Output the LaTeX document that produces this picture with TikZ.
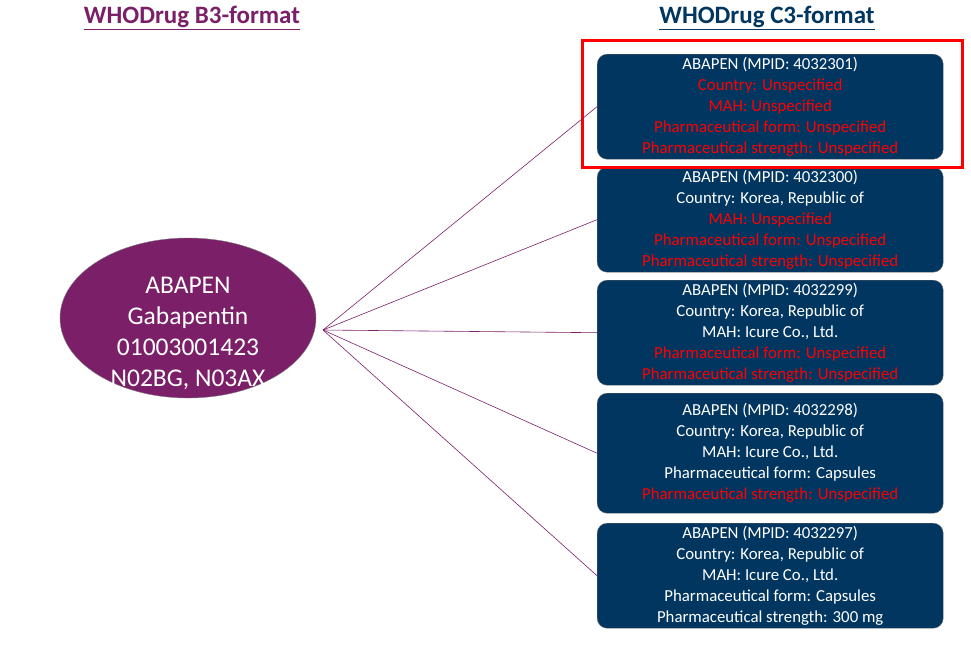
\documentclass[tikz,border=0pt]{standalone}
\usepackage{fontspec}
\setmainfont{Carlito}
\usetikzlibrary{shapes.geometric}
\definecolor{boxblue}{HTML}{003660}
\definecolor{purp}{HTML}{7A1F68}
\definecolor{redt}{HTML}{FF0000}
\begin{document}
\begin{tikzpicture}[x=1pt,y=-1pt,
  box/.style={draw=black!60,fill=boxblue,rounded corners=10pt,minimum width=346pt,minimum height=105pt,text=white,align=center,font=\fontsize{16.8}{21}\selectfont,anchor=north west,inner sep=0pt},
  conn/.style={draw=purp,line width=0.6pt},
  title/.style={font=\fontsize{25}{28}\selectfont\bfseries}]
\useasboundingbox (0,0) rectangle (971,646);
\node[title,text=purp] (t1) at (192,18) {\underline{WHODrug B3-format}};
\node[title,text=boxblue] (t2) at (767,18) {\underline{WHODrug C3-format}};
\node[ellipse,fill=purp,draw=black!50,minimum width=256pt,minimum height=160pt,inner sep=0pt] (e) at (188,318) {};
\node[text=white,align=center,font=\fontsize{25.5}{31}\selectfont,inner sep=0pt] (et) at (188,333) {ABAPEN\\Gabapentin\\01003001423\\N02BG, N03AX};
\coordinate (c) at (323,330);
\node[box] (b1) at (597,54) {ABAPEN (MPID: 4032301)\\\textcolor{redt}{Country: Unspecified}\\\textcolor{redt}{MAH: Unspecified}\\\textcolor{redt}{Pharmaceutical form: Unspecified}\\\textcolor{redt}{Pharmaceutical strength: Unspecified}};
\node[box] (b2) at (597,167) {ABAPEN (MPID: 4032300)\\Country: Korea, Republic of\\\textcolor{redt}{MAH: Unspecified}\\\textcolor{redt}{Pharmaceutical form: Unspecified}\\\textcolor{redt}{Pharmaceutical strength: Unspecified}};
\node[box] (b3) at (597,280) {ABAPEN (MPID: 4032299)\\Country: Korea, Republic of\\MAH: Icure Co., Ltd.\\\textcolor{redt}{Pharmaceutical form: Unspecified}\\\textcolor{redt}{Pharmaceutical strength: Unspecified}};
\node[box,minimum height=120pt] (b4) at (597,393) {ABAPEN (MPID: 4032298)\\Country: Korea, Republic of\\MAH: Icure Co., Ltd.\\Pharmaceutical form: Capsules\\\textcolor{redt}{Pharmaceutical strength: Unspecified}};
\node[box] (b5) at (597,523) {ABAPEN (MPID: 4032297)\\Country: Korea, Republic of\\MAH: Icure Co., Ltd.\\Pharmaceutical form: Capsules\\Pharmaceutical strength: 300 mg};
\node[draw=redt,line width=3pt,minimum width=380pt,minimum height=127pt,anchor=north west,inner sep=0pt] (r) at (581,39) {};
\foreach \b in {b1,b2,b3,b4,b5} \draw[conn] (c) -- (\b.west);
\end{tikzpicture}
\end{document}
